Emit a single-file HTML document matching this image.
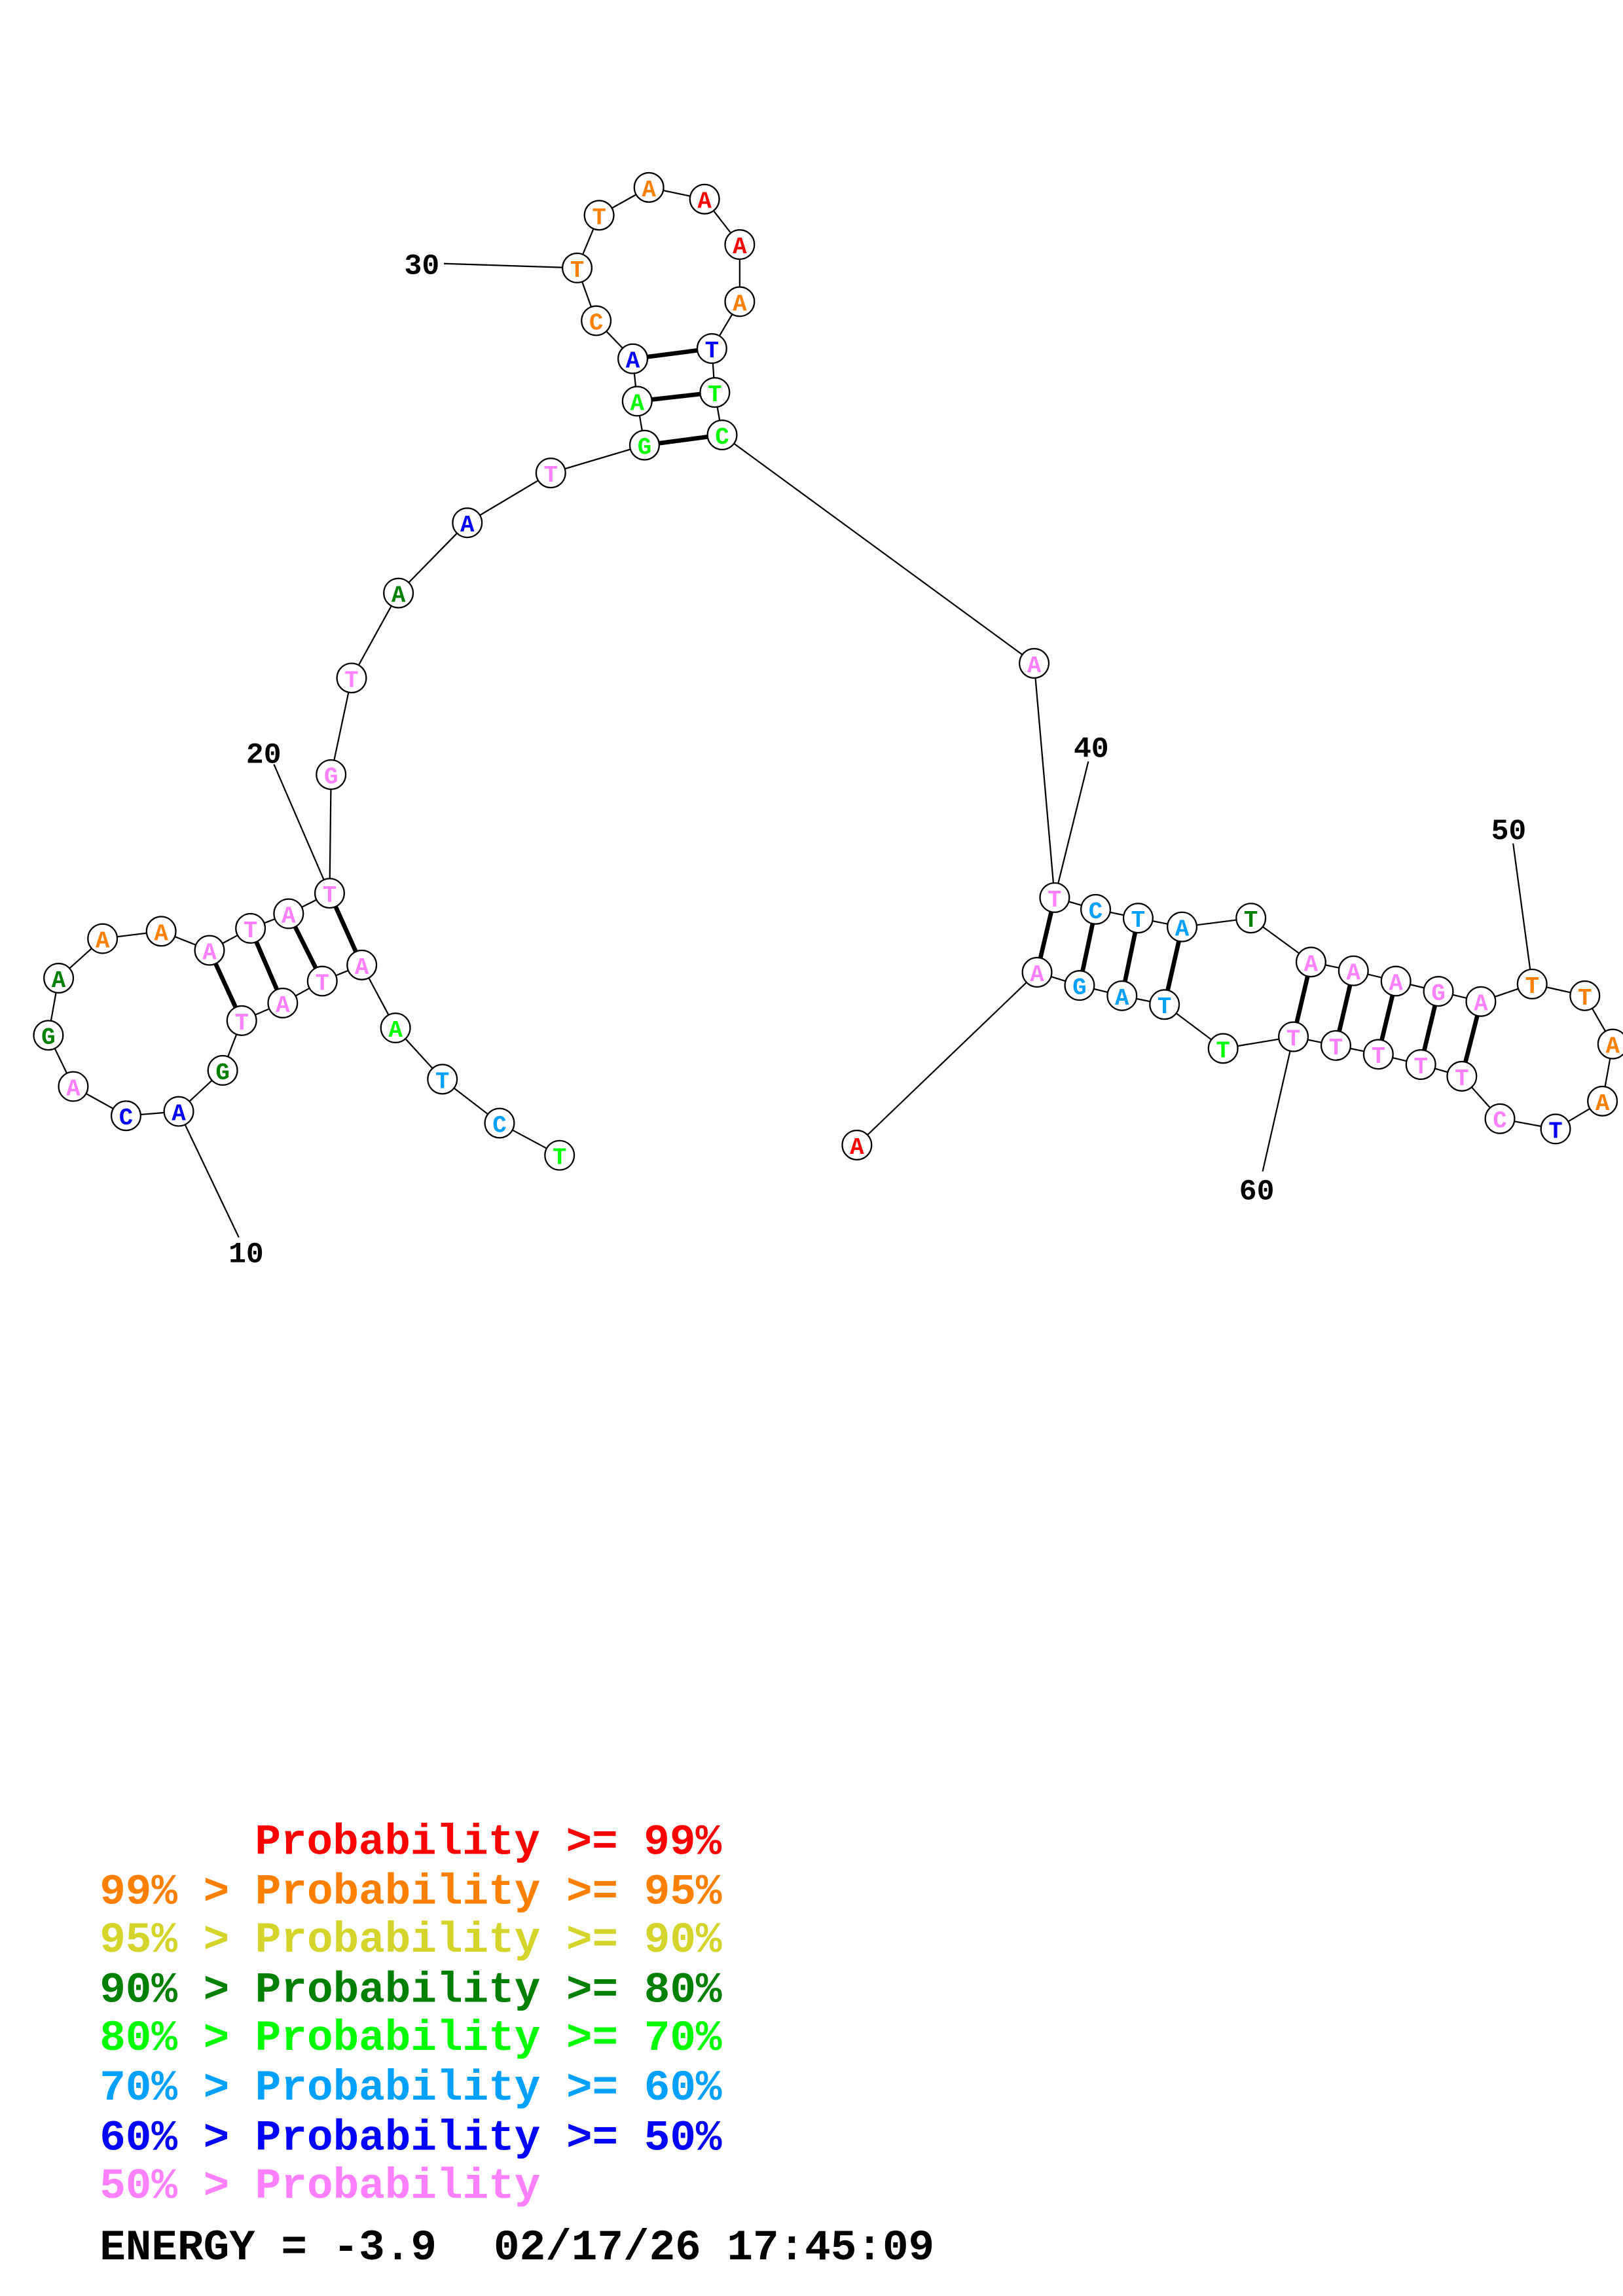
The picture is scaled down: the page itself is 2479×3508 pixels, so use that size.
<!DOCTYPE html>
<html><head><meta charset="utf-8"><style>
html,body{margin:0;padding:0;background:#fff;}
svg{display:block;}
.pre text{white-space:pre;}
</style></head><body>
<svg xmlns="http://www.w3.org/2000/svg" width="2479" height="3508" viewBox="0 0 1108 1568">
<rect width="1108" height="1568" fill="#fff"/>
<g stroke="#000" stroke-width="1" fill="none">
<polyline points="382,789 341,767 302,737 270,702 247,659 220,670 193,685 165,697 152,731 122,759 86,762 50,742 33,707 40,668 70,641 110,636 143,649 171,634 197,624 225,610 226,529 240,463 272,405 319,357 376,323 440,304 435,274 432,245 407,219 394,183 409,147 443,128 481,136 505,167 505,206 486,238 488,268 493,297 706,453 720,613 748,621 777,627 807,633 854,627 895,657 924,663 953,670 982,677 1011,684 1046,672 1082,680 1101,713 1094,752 1062,771 1024,764 998,735 970,727 941,720 912,714 883,708 835,716 795,686 766,680 737,673 708,664 585,782"/>
<line x1="163" y1="845" x2="122" y2="759"/>
<line x1="187" y1="522" x2="225" y2="610"/>
<line x1="303" y1="180" x2="394" y2="183"/>
<line x1="743" y1="520" x2="720" y2="613"/>
<line x1="1033" y1="576" x2="1046" y2="672"/>
<line x1="862" y1="800" x2="883" y2="708"/>
</g>
<g stroke="#000" stroke-width="3">
<line x1="165" y1="697" x2="143" y2="649"/>
<line x1="193" y1="685" x2="171" y2="634"/>
<line x1="220" y1="670" x2="197" y2="624"/>
<line x1="247" y1="659" x2="225" y2="610"/>
<line x1="440" y1="304" x2="493" y2="297"/>
<line x1="435" y1="274" x2="488" y2="268"/>
<line x1="432" y1="245" x2="486" y2="238"/>
<line x1="720" y1="613" x2="708" y2="664"/>
<line x1="748" y1="621" x2="737" y2="673"/>
<line x1="777" y1="627" x2="766" y2="680"/>
<line x1="807" y1="633" x2="795" y2="686"/>
<line x1="895" y1="657" x2="883" y2="708"/>
<line x1="924" y1="663" x2="912" y2="714"/>
<line x1="953" y1="670" x2="941" y2="720"/>
<line x1="982" y1="677" x2="970" y2="727"/>
<line x1="1011" y1="684" x2="998" y2="735"/>
</g>
<g font-family="Liberation Mono, monospace" font-weight="bold" font-size="16" text-anchor="middle">
<g fill="#fff" stroke="#000" stroke-width="1">
<circle cx="382" cy="789" r="10"/><circle cx="341" cy="767" r="10"/><circle cx="302" cy="737" r="10"/><circle cx="270" cy="702" r="10"/><circle cx="247" cy="659" r="10"/><circle cx="220" cy="670" r="10"/><circle cx="193" cy="685" r="10"/><circle cx="165" cy="697" r="10"/><circle cx="152" cy="731" r="10"/><circle cx="122" cy="759" r="10"/><circle cx="86" cy="762" r="10"/><circle cx="50" cy="742" r="10"/><circle cx="33" cy="707" r="10"/><circle cx="40" cy="668" r="10"/><circle cx="70" cy="641" r="10"/><circle cx="110" cy="636" r="10"/><circle cx="143" cy="649" r="10"/><circle cx="171" cy="634" r="10"/><circle cx="197" cy="624" r="10"/><circle cx="225" cy="610" r="10"/><circle cx="226" cy="529" r="10"/><circle cx="240" cy="463" r="10"/><circle cx="272" cy="405" r="10"/><circle cx="319" cy="357" r="10"/><circle cx="376" cy="323" r="10"/><circle cx="440" cy="304" r="10"/><circle cx="435" cy="274" r="10"/><circle cx="432" cy="245" r="10"/><circle cx="407" cy="219" r="10"/><circle cx="394" cy="183" r="10"/><circle cx="409" cy="147" r="10"/><circle cx="443" cy="128" r="10"/><circle cx="481" cy="136" r="10"/><circle cx="505" cy="167" r="10"/><circle cx="505" cy="206" r="10"/><circle cx="486" cy="238" r="10"/><circle cx="488" cy="268" r="10"/><circle cx="493" cy="297" r="10"/><circle cx="706" cy="453" r="10"/><circle cx="720" cy="613" r="10"/><circle cx="748" cy="621" r="10"/><circle cx="777" cy="627" r="10"/><circle cx="807" cy="633" r="10"/><circle cx="854" cy="627" r="10"/><circle cx="895" cy="657" r="10"/><circle cx="924" cy="663" r="10"/><circle cx="953" cy="670" r="10"/><circle cx="982" cy="677" r="10"/><circle cx="1011" cy="684" r="10"/><circle cx="1046" cy="672" r="10"/><circle cx="1082" cy="680" r="10"/><circle cx="1101" cy="713" r="10"/><circle cx="1094" cy="752" r="10"/><circle cx="1062" cy="771" r="10"/><circle cx="1024" cy="764" r="10"/><circle cx="998" cy="735" r="10"/><circle cx="970" cy="727" r="10"/><circle cx="941" cy="720" r="10"/><circle cx="912" cy="714" r="10"/><circle cx="883" cy="708" r="10"/><circle cx="835" cy="716" r="10"/><circle cx="795" cy="686" r="10"/><circle cx="766" cy="680" r="10"/><circle cx="737" cy="673" r="10"/><circle cx="708" cy="664" r="10"/><circle cx="585" cy="782" r="10"/>
</g>
<text x="382" y="795" fill="#00ff00">T</text>
<text x="341" y="773" fill="#00a0ff">C</text>
<text x="302" y="743" fill="#00a0ff">T</text>
<text x="270" y="708" fill="#00ff00">A</text>
<text x="247" y="665" fill="#ff80ff">A</text>
<text x="220" y="676" fill="#ff80ff">T</text>
<text x="193" y="691" fill="#ff80ff">A</text>
<text x="165" y="703" fill="#ff80ff">T</text>
<text x="152" y="737" fill="#008000">G</text>
<text x="122" y="765" fill="#0000ff">A</text>
<text x="86" y="768" fill="#0000ff">C</text>
<text x="50" y="748" fill="#ff80ff">A</text>
<text x="33" y="713" fill="#008000">G</text>
<text x="40" y="674" fill="#008000">A</text>
<text x="70" y="647" fill="#ff8000">A</text>
<text x="110" y="642" fill="#ff8000">A</text>
<text x="143" y="655" fill="#ff80ff">A</text>
<text x="171" y="640" fill="#ff80ff">T</text>
<text x="197" y="630" fill="#ff80ff">A</text>
<text x="225" y="616" fill="#ff80ff">T</text>
<text x="226" y="535" fill="#ff80ff">G</text>
<text x="240" y="469" fill="#ff80ff">T</text>
<text x="272" y="411" fill="#008000">A</text>
<text x="319" y="363" fill="#0000ff">A</text>
<text x="376" y="329" fill="#ff80ff">T</text>
<text x="440" y="310" fill="#00ff00">G</text>
<text x="435" y="280" fill="#00ff00">A</text>
<text x="432" y="251" fill="#0000ff">A</text>
<text x="407" y="225" fill="#ff8000">C</text>
<text x="394" y="189" fill="#ff8000">T</text>
<text x="409" y="153" fill="#ff8000">T</text>
<text x="443" y="134" fill="#ff8000">A</text>
<text x="481" y="142" fill="#ff0000">A</text>
<text x="505" y="173" fill="#ff0000">A</text>
<text x="505" y="212" fill="#ff8000">A</text>
<text x="486" y="244" fill="#0000ff">T</text>
<text x="488" y="274" fill="#00ff00">T</text>
<text x="493" y="303" fill="#00ff00">C</text>
<text x="706" y="459" fill="#ff80ff">A</text>
<text x="720" y="619" fill="#ff80ff">T</text>
<text x="748" y="627" fill="#00a0ff">C</text>
<text x="777" y="633" fill="#00a0ff">T</text>
<text x="807" y="639" fill="#00a0ff">A</text>
<text x="854" y="633" fill="#008000">T</text>
<text x="895" y="663" fill="#ff80ff">A</text>
<text x="924" y="669" fill="#ff80ff">A</text>
<text x="953" y="676" fill="#ff80ff">A</text>
<text x="982" y="683" fill="#ff80ff">G</text>
<text x="1011" y="690" fill="#ff80ff">A</text>
<text x="1046" y="678" fill="#ff8000">T</text>
<text x="1082" y="686" fill="#ff8000">T</text>
<text x="1101" y="719" fill="#ff8000">A</text>
<text x="1094" y="758" fill="#ff8000">A</text>
<text x="1062" y="777" fill="#0000ff">T</text>
<text x="1024" y="770" fill="#ff80ff">C</text>
<text x="998" y="741" fill="#ff80ff">T</text>
<text x="970" y="733" fill="#ff80ff">T</text>
<text x="941" y="726" fill="#ff80ff">T</text>
<text x="912" y="720" fill="#ff80ff">T</text>
<text x="883" y="714" fill="#ff80ff">T</text>
<text x="835" y="722" fill="#00ff00">T</text>
<text x="795" y="692" fill="#00a0ff">T</text>
<text x="766" y="686" fill="#00a0ff">A</text>
<text x="737" y="679" fill="#00a0ff">G</text>
<text x="708" y="670" fill="#ff80ff">A</text>
<text x="585" y="788" fill="#ff0000">A</text>
</g>
<g font-family="Liberation Mono, monospace" font-weight="bold" font-size="20" fill="#000" text-anchor="middle">
<text x="168" y="862">10</text>
<text x="180" y="521">20</text>
<text x="288" y="187">30</text>
<text x="745" y="517">40</text>
<text x="1030" y="573">50</text>
<text x="858" y="819">60</text>
</g>
<g class="pre" font-family="Liberation Mono, monospace" font-weight="bold" font-size="29.5">
<text x="174" y="1266" fill="#ff0000">Probability &gt;= 99%</text>
<text x="68" y="1300" fill="#ff8000">99% &gt; Probability &gt;= 95%</text>
<text x="68" y="1333" fill="#d4d42a">95% &gt; Probability &gt;= 90%</text>
<text x="68" y="1367" fill="#008000">90% &gt; Probability &gt;= 80%</text>
<text x="68" y="1400" fill="#00ff00">80% &gt; Probability &gt;= 70%</text>
<text x="68" y="1434" fill="#00a0ff">70% &gt; Probability &gt;= 60%</text>
<text x="68" y="1468" fill="#0000ff">60% &gt; Probability &gt;= 50%</text>
<text x="68" y="1501" fill="#ff80ff">50% &gt; Probability</text>
<text x="68" y="1543" fill="#000">ENERGY = -3.9</text>
<text x="337" y="1543" fill="#000">02/17/26 17:45:09</text>
</g>
</svg>
</body></html>
